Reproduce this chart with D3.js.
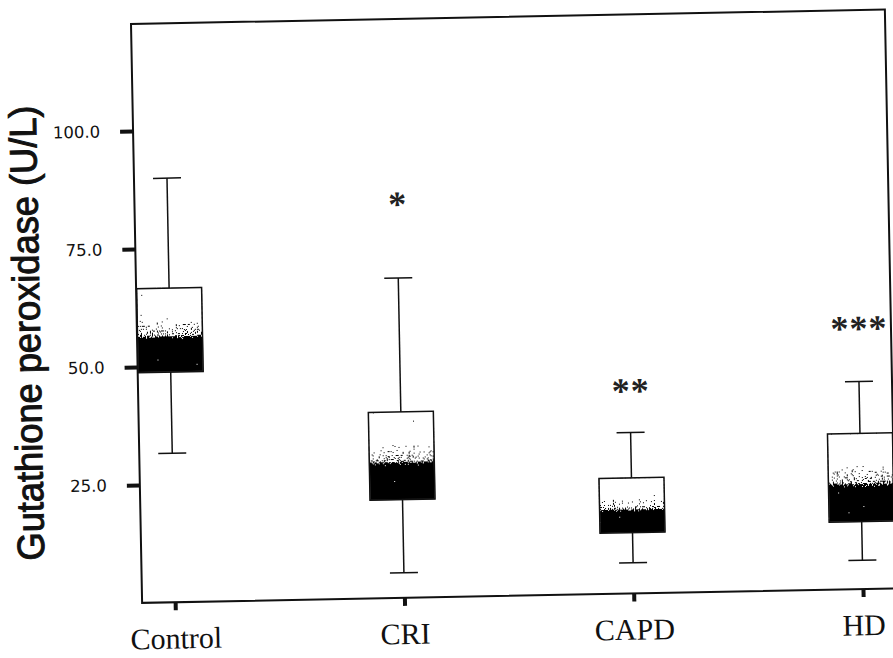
<!DOCTYPE html>
<html lang="en">
  <head>
    <meta charset="UTF-8" />
    <title>Gutathione peroxidase</title>
    <script src="https://d3js.org/d3.v7.min.js"></script>
    <style>
      body {
        margin: 0;
        background: #fff;
      }
      .frame {
        fill: none;
        stroke: #111;
        stroke-width: 2px;
      }
      .whisker {
        stroke: #111;
        stroke-width: 1.5px;
      }
      .box-outline {
        fill: none;
        stroke: #111;
        stroke-width: 1.5px;
      }
      .y-axis text {
        font-family: "DejaVu Sans", "Liberation Sans", sans-serif;
        font-size: 16.5px;
        fill: #111;
      }
      .x-axis text {
        font-family: "Liberation Serif", "Times New Roman", serif;
        font-size: 30px;
        fill: #111;
      }
      .sig {
        font-family: "Liberation Serif", "Times New Roman", serif;
        font-size: 36px;
        font-weight: bold;
        letter-spacing: 1px;
        fill: #222;
      }
      .y-title {
        font-family: "Liberation Sans", Arial, sans-serif;
        font-size: 38px;
        fill: #111;
        stroke: #111;
        stroke-width: 1px;
      }
    </style>
  </head>

  <body>
    <svg id="chart" width="893" height="658"></svg>
    <script>
      // values (U/L)
      const groups = ["Control", "CRI", "CAPD", "HD"];
      const whiskerLow = [31.6, 5.3, 6.5, 6.1];
      const boxLow = [48.8, 20.8, 12.9, 14.3];
      const boxHigh = [66.6, 39.4, 24.5, 33.0];
      const whiskerHigh = [89.9, 67.8, 34.1, 44.0];
      const sigMarks = ["", "*", "**", "***"];
      const sigValues = [null, 84.7, 44.2, 56.5];
      const yTicks = [25, 50, 75, 100];

      const svg = d3.select("#chart");
      const plotW = 754;
      const plotH = 579;
      const boxW = 65;
      const capW = 28;

      // the original scan is slightly tilted
      const plot = svg
        .append("g")
        .attr("transform", "translate(131,24) rotate(-1.1)");

      const x = d3.scalePoint().domain(groups).range([0, plotW]).padding(0.144);
      const y = d3.scaleLinear().domain([0, 122.7]).range([plotH, 0]);

      const defs = svg.append("defs");
      const grad = defs
        .append("linearGradient")
        .attr("id", "boxFill")
        .attr("x1", 0)
        .attr("y1", 0)
        .attr("x2", 0)
        .attr("y2", 1);
      [
        [0, "#ffffff"],
        [0.3, "#ffffff"],
        [0.56, "#9a9a9a"],
        [0.62, "#000000"],
        [1, "#000000"],
      ].forEach(([o, c]) => grad.append("stop").attr("offset", o).attr("stop-color", c));

      // stipple the shading like the printed halftone
      const grain = defs
        .append("filter")
        .attr("id", "grain")
        .attr("x", 0)
        .attr("y", 0)
        .attr("width", 1)
        .attr("height", 1)
        .attr("color-interpolation-filters", "sRGB");
      grain
        .append("feTurbulence")
        .attr("type", "fractalNoise")
        .attr("baseFrequency", 0.8)
        .attr("numOctaves", 1)
        .attr("seed", 4)
        .attr("result", "noise");
      grain
        .append("feColorMatrix")
        .attr("in", "noise")
        .attr("type", "matrix")
        .attr("values", "1 0 0 0 0  1 0 0 0 0  1 0 0 0 0  0 0 0 0 1")
        .attr("result", "grey");
      grain
        .append("feComposite")
        .attr("in", "SourceGraphic")
        .attr("in2", "grey")
        .attr("operator", "arithmetic")
        .attr("k1", 0)
        .attr("k2", 1)
        .attr("k3", 1.7)
        .attr("k4", -0.85)
        .attr("result", "mix");
      const ct = grain.append("feComponentTransfer").attr("in", "mix").attr("result", "dots");
      ["feFuncR", "feFuncG", "feFuncB"].forEach((f) =>
        ct.append(f).attr("type", "discrete").attr("tableValues", "0 1")
      );
      grain
        .append("feComposite")
        .attr("in", "dots")
        .attr("in2", "SourceGraphic")
        .attr("operator", "in");

      const rows = groups.map((g, i) => ({
        g,
        lo: whiskerLow[i],
        q1: boxLow[i],
        q3: boxHigh[i],
        hi: whiskerHigh[i],
        mark: sigMarks[i],
        markAt: sigValues[i],
      }));

      const item = plot
        .selectAll("g.item")
        .data(rows)
        .join("g")
        .attr("class", "item")
        .attr("transform", (d) => "translate(" + x(d.g) + ",0)");

      item
        .append("line")
        .attr("class", "whisker")
        .attr("y1", (d) => y(d.hi))
        .attr("y2", (d) => y(d.q3));
      item
        .append("line")
        .attr("class", "whisker")
        .attr("y1", (d) => y(d.q1))
        .attr("y2", (d) => y(d.lo));
      item
        .append("line")
        .attr("class", "whisker")
        .attr("x1", -capW / 2)
        .attr("x2", capW / 2)
        .attr("y1", (d) => y(d.hi))
        .attr("y2", (d) => y(d.hi));
      item
        .append("line")
        .attr("class", "whisker")
        .attr("x1", -capW / 2)
        .attr("x2", capW / 2)
        .attr("y1", (d) => y(d.lo))
        .attr("y2", (d) => y(d.lo));

      item
        .append("rect")
        .attr("x", -boxW / 2)
        .attr("width", boxW)
        .attr("y", (d) => y(d.q3))
        .attr("height", (d) => y(d.q1) - y(d.q3))
        .attr("fill", "url(#boxFill)")
        .attr("filter", "url(#grain)");
      item
        .append("rect")
        .attr("class", "box-outline")
        .attr("x", -boxW / 2)
        .attr("width", boxW)
        .attr("y", (d) => y(d.q3))
        .attr("height", (d) => y(d.q1) - y(d.q3));

      item
        .filter((d) => d.mark)
        .append("text")
        .attr("class", "sig")
        .attr("text-anchor", "middle")
        .attr("x", 1)
        .attr("y", (d) => y(d.markAt))
        .attr("dy", 18)
        .text((d) => d.mark);

      plot.append("rect").attr("class", "frame").attr("width", plotW).attr("height", plotH);

      const yAxis = plot
        .append("g")
        .attr("class", "y-axis")
        .call(
          d3
            .axisLeft(y)
            .tickValues(yTicks)
            .tickFormat(d3.format(".1f"))
            .tickSize(13)
            .tickPadding(20)
        );
      yAxis.select(".domain").remove();
      yAxis.selectAll(".tick line").attr("stroke", "#111").attr("stroke-width", 4);

      const xAxis = plot
        .append("g")
        .attr("class", "x-axis")
        .attr("transform", "translate(0," + plotH + ")")
        .call(d3.axisBottom(x).tickSize(8).tickPadding(17));
      xAxis.select(".domain").remove();
      xAxis.selectAll(".tick line").attr("stroke", "#111").attr("stroke-width", 4);

      plot
        .append("text")
        .attr("class", "y-title")
        .attr("text-anchor", "middle")
        .attr("transform", "translate(-97," + 307 + ") rotate(-90)")
        .attr("textLength", 455)
        .attr("lengthAdjust", "spacingAndGlyphs")
        .text("Gutathione peroxidase (U/L)");
    </script>
  </body>
</html>
